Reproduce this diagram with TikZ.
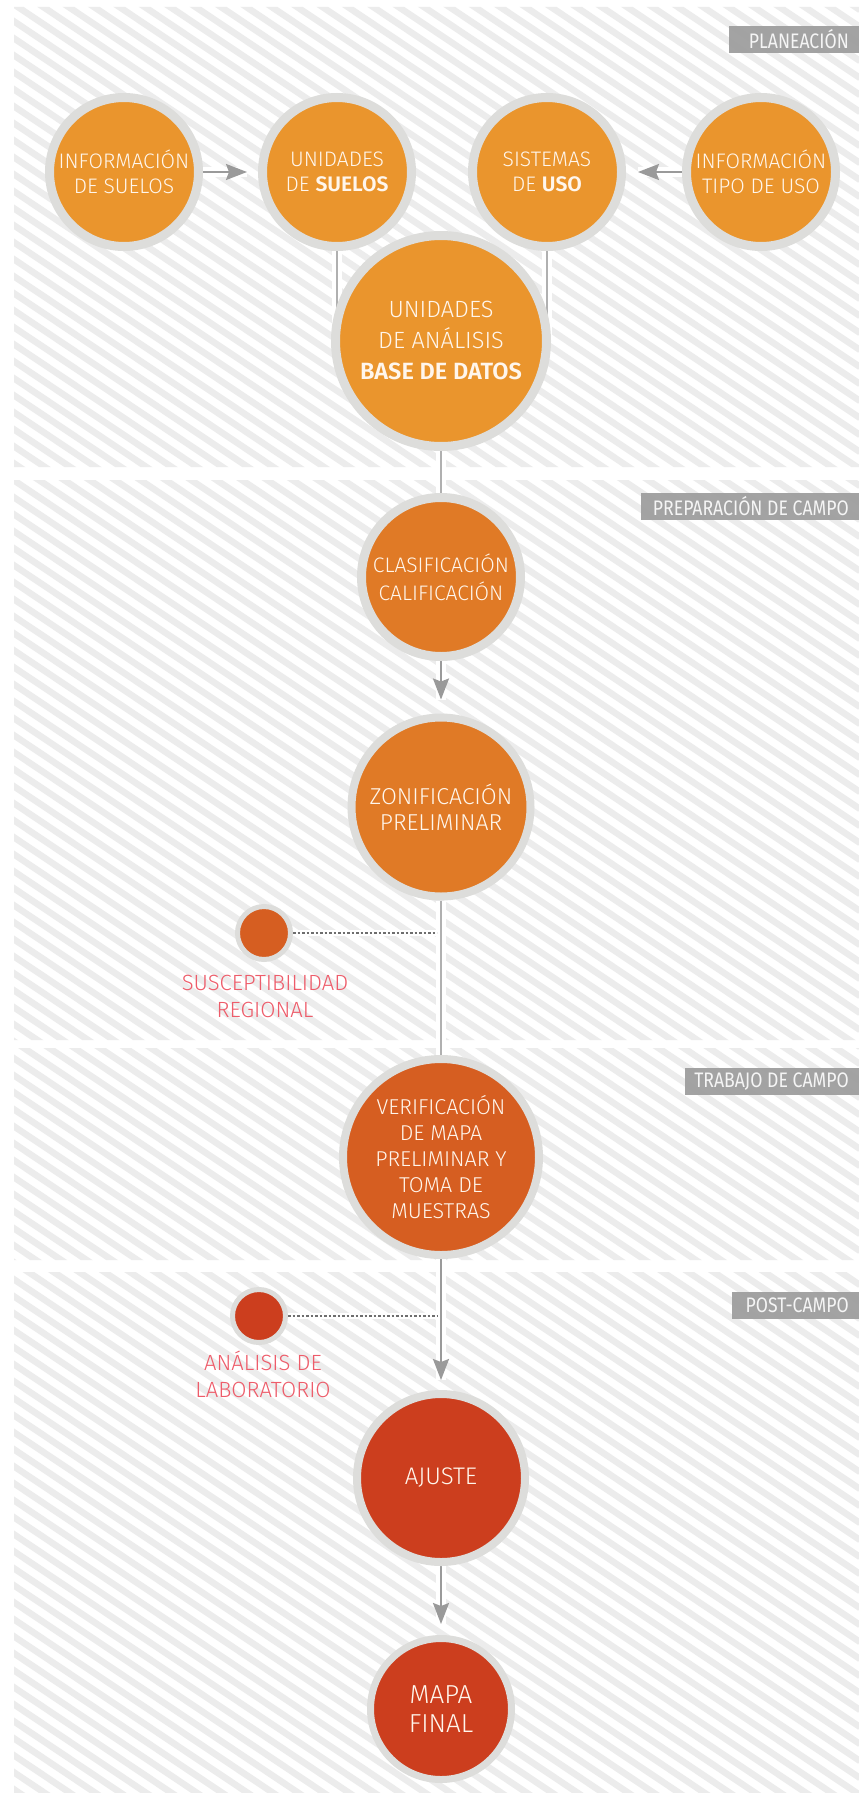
\documentclass[tikz,border=0pt]{standalone}
\usepackage{fontspec}
\setmainfont{Fira Sans Light}[BoldFont={Fira Sans SemiBold}]
\newfontfamily\tabfont{Fira Sans}[FakeStretch=0.84]
\usetikzlibrary{arrows.meta}
\definecolor{ringgray}{HTML}{DDDDDB}
\definecolor{orA}{HTML}{EA952D}
\definecolor{orB}{HTML}{E07A26}
\definecolor{orC}{HTML}{D65E21}
\definecolor{orD}{HTML}{CC3E1E}
\definecolor{pinktxt}{HTML}{EE5C6A}
\definecolor{linegray}{HTML}{B0B0B0}
\definecolor{arrowgray}{HTML}{9A9A9A}
\definecolor{dotgray}{HTML}{6E6E6E}
\definecolor{stripecol}{HTML}{ECECEC}
\definecolor{tabgray}{HTML}{9A9A9A}
\definecolor{txtwhite}{HTML}{FFF6EC}
\pgfdeclarelayer{bg}
\pgfdeclarelayer{conn}
\pgfsetlayers{bg,conn,main}
\tikzset{
  bubble/.style={circle, draw=ringgray, text=txtwhite, align=center, inner sep=0pt},
  tagfill/.style={fill=tabgray, fill opacity=0.9},
  tagtext/.style={text=white!96!black, font=\tabfont\fontsize{21}{21}\selectfont,
    inner sep=0pt, anchor=east},
  link/.style={draw=linegray, line width=2pt, preaction={draw=white, line width=10pt, arrows=-}},
  arrowlink/.style={link, draw=arrowgray, -{Stealth[length=21pt,width=16pt,inset=3pt]}},
  dotlink/.style={draw=dotgray, line width=2.5pt, dash pattern=on 2.5pt off 2pt,
    preaction={draw=white, line width=6pt, dash pattern=}},
  note/.style={text=pinktxt, align=center, inner sep=0pt, font=\fontsize{22}{27}\selectfont},
  stripeline/.style={draw=stripecol, line width=6.5pt}
}
\begin{document}
\begin{tikzpicture}[x=1pt,y=-1pt]
\useasboundingbox (0,0) rectangle (859,1793);
\begin{pgfonlayer}{bg}
  \fill[white] (0,0) rectangle (859,1793);
  \begin{scope}
    \clip (14,7) rectangle (859,467) (14,480) rectangle (859,1040)
          (14,1048) rectangle (859,1260) (14,1272) rectangle (859,1793);
    \foreach \c in {-600,-583,...,1800} \draw[stripeline] (0,\c) -- (860,{\c+576});
  \end{scope}
\end{pgfonlayer}

% section tabs
\fill[tagfill] (729,26) rectangle (859,53);
\fill[tagfill] (641,493) rectangle (859,520);
\fill[tagfill] (685,1068) rectangle (859,1095);
\fill[tagfill] (732,1292) rectangle (859,1319);
\node[tagtext] (t1) at (849,39.5) {PLANEACIÓN};
\node[tagtext] (t2) at (849,506.5) {PREPARACIÓN DE CAMPO};
\node[tagtext] (t3) at (849,1081.5) {TRABAJO DE CAMPO};
\node[tagtext] (t4) at (849,1305.5) {POST-CAMPO};

% top row
\node[bubble, fill=orA, line width=9pt, minimum size=149pt, font=\fontsize{21}{25}\selectfont] (isu) at (124,172) {INFORMACIÓN\\DE SUELOS};
\node[bubble, fill=orA, line width=9pt, minimum size=149pt, font=\fontsize{21}{25}\selectfont] (usu) at (337,172) {UNIDADES\\DE \textbf{SUELOS}};
\node[bubble, fill=orA, line width=9pt, minimum size=149pt, font=\fontsize{21}{25}\selectfont] (suso) at (547,172) {SISTEMAS\\DE \textbf{USO}};
\node[bubble, fill=orA, line width=9pt, minimum size=149pt, font=\fontsize{21}{25}\selectfont] (itu) at (761,172) {INFORMACIÓN\\TIPO DE USO};
\node[bubble, fill=orA, line width=9pt, minimum size=211pt, font=\fontsize{23.5}{31}\selectfont] (base) at (441,341) {UNIDADES\\DE ANÁLISIS\\\textbf{BASE DE DATOS}};

% chain
\node[bubble, fill=orB, line width=9pt, minimum size=159pt, font=\fontsize{21}{28}\selectfont] (clas) at (441,577) {CLASIFICACIÓN\\CALIFICACIÓN};
\node[bubble, fill=orB, line width=8pt, minimum size=179pt, font=\fontsize{23}{26}\selectfont] (zon) at (441,807) {ZONIFICACIÓN\\PRELIMINAR};
\node[bubble, fill=orC, line width=8pt, minimum size=196pt, font=\fontsize{21.5}{26}\selectfont] (ver) at (441,1157) {VERIFICACIÓN\\DE MAPA\\PRELIMINAR Y\\TOMA DE\\MUESTRAS};
\node[bubble, fill=orD, line width=8pt, minimum size=168pt, font=\fontsize{24}{26}\selectfont] (aju) at (441,1478) {AJUSTE};
\node[bubble, fill=orD, line width=7pt, minimum size=141pt, font=\fontsize{26}{29.5}\selectfont] (mapa) at (441,1709) {MAPA\\FINAL};

% side bubbles
\node[bubble, fill=orC, line width=5pt, minimum size=53pt] (susc) at (264,933) {};
\node[note] (susct) at (265,996) {SUSCEPTIBILIDAD\\REGIONAL};
\node[bubble, fill=orD, line width=5pt, minimum size=53pt] (ana) at (259,1316) {};
\node[note] (anat) at (263,1374) {ANÁLISIS DE\\LABORATORIO};

\coordinate (sj) at (437,933);
\coordinate (aj) at (437,1316);

\begin{pgfonlayer}{conn}
  \draw[arrowlink, shorten >=11pt] (isu.east) -- (usu.west);
  \draw[arrowlink, shorten >=12pt] (itu.west) -- (suso.east);
  \draw[link] (usu.south) -- (usu.south |- base.center);
  \draw[link] (suso.south) -- (suso.south |- base.center);
  \draw[link] (base.south) -- (clas.north);
  \draw[arrowlink, shorten >=14pt] (clas.south) -- (zon.north);
  \draw[link] (zon.south) -- (ver.north);
  \draw[arrowlink, shorten >=10pt] (ver.south) -- (aju.north);
  \draw[arrowlink, shorten >=11pt] (aju.south) -- (mapa.north);
  \draw[dotlink] (susc.east) -- (sj);
  \draw[dotlink] (ana.east) -- (aj);
\end{pgfonlayer}
\end{tikzpicture}
\end{document}
